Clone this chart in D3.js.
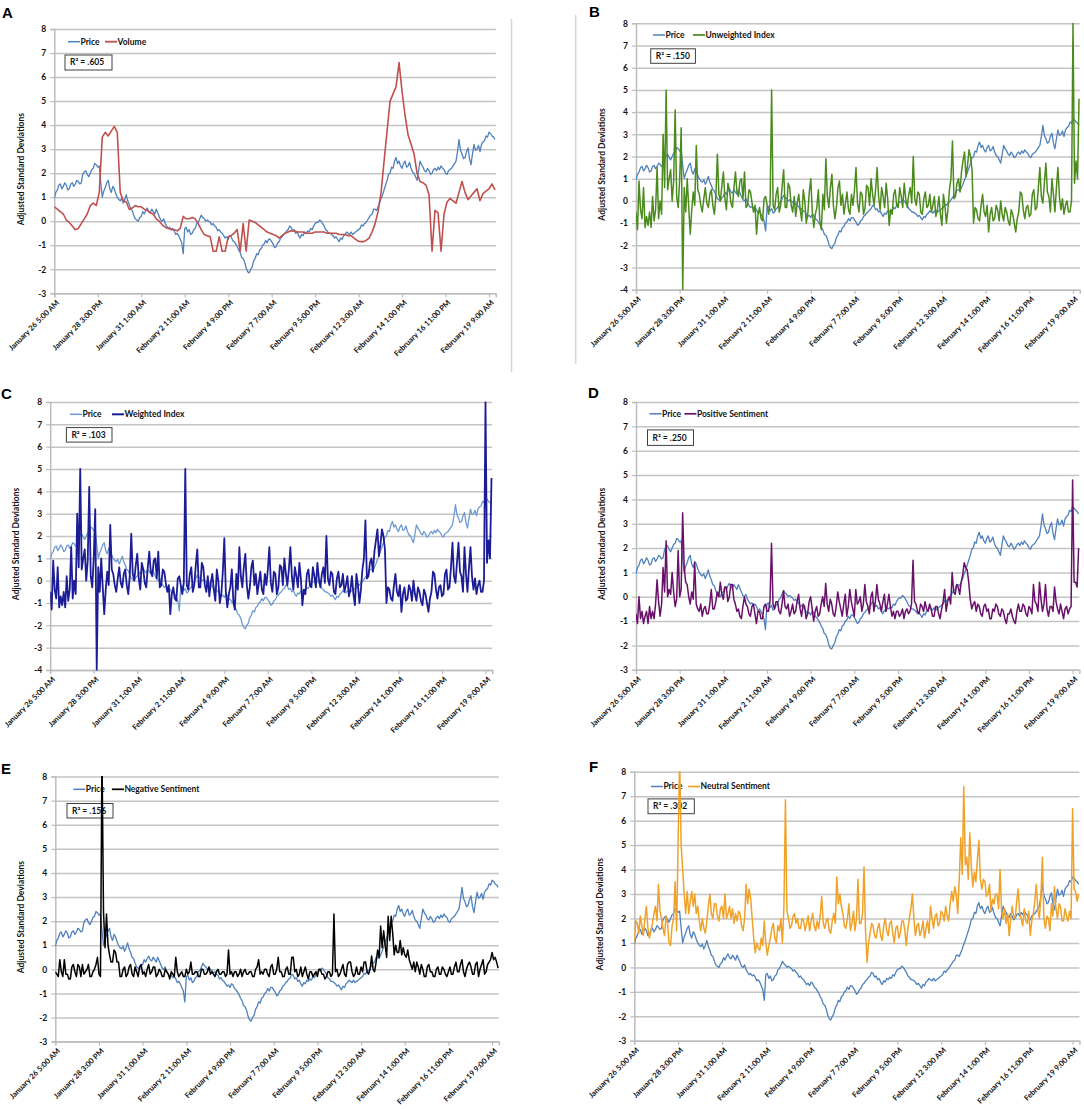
<!DOCTYPE html>
<html><head><meta charset="utf-8">
<script src="https://cdn.jsdelivr.net/npm/d3@7"></script>
<style>body{margin:0;background:#fff}svg{display:block}</style>
</head><body>
<svg id="c" width="1084" height="1109"></svg>
<script>
// ---------- data ----------
const tickLabels = ["January 26 5:00 AM","January 28 3:00 PM","January 31 1:00 AM","February 2 11:00 AM","February 4 9:00 PM","February 7 7:00 AM","February 9 5:00 PM","February 12 3:00 AM","February 14 1:00 PM","February 16 11:00 PM","February 19 9:00 AM"];
const tickHours = [0,58,116,174,232,290,348,406,464,522,580];
// hours between consecutive values, counted from January 26 5:00 AM
const priceStep = 2, volumeStep = 4, indexStep = 2;

const price = [
0.95,1.2,1.3,1.5,1.55,1.35,1.45,1.6,1.5,1.3,1.35,1.55,1.6,1.45,1.55,1.7,1.65,1.55,1.6,1.95,
2.05,2.1,1.95,1.85,2.0,2.15,2.2,2.4,2.35,2.25,2.3,1.6,1.0,1.25,1.4,1.6,1.7,1.35,1.2,1.45,
1.35,1.15,1.0,0.9,0.85,0.95,0.75,0.9,1.1,0.85,0.7,0.5,0.45,0.25,0.1,0.05,0.0,0.15,0.2,0.4,
0.3,0.45,0.55,0.4,0.35,0.5,0.4,0.3,0.5,0.35,0.2,0.05,0.0,0.1,-0.1,-0.2,-0.3,-0.25,-0.35,-0.3,
-0.4,-0.55,-0.5,-0.6,-0.75,-0.9,-1.35,-0.3,-0.25,-0.45,-0.35,-0.55,-0.5,-0.35,-0.3,-0.1,-0.05,0.1,0.25,0.15,
0.1,0.0,0.05,0.0,-0.05,-0.15,-0.1,-0.2,-0.25,-0.4,-0.35,-0.45,-0.5,-0.6,-0.7,-0.65,-0.75,-0.6,-0.65,-0.8,
-0.85,-0.95,-1.05,-1.2,-1.3,-1.5,-1.55,-1.7,-1.95,-2.1,-2.15,-2.0,-1.9,-1.65,-1.55,-1.35,-1.4,-1.2,-1.15,-1.0,
-0.95,-0.8,-0.9,-0.75,-0.75,-0.85,-0.95,-1.1,-1.05,-0.9,-0.85,-0.7,-0.65,-0.55,-0.5,-0.4,-0.35,-0.2,-0.25,-0.4,
-0.35,-0.5,-0.45,-0.6,-0.7,-0.55,-0.6,-0.45,-0.5,-0.4,-0.45,-0.3,-0.35,-0.2,-0.1,-0.05,-0.05,0.05,0.0,-0.1,
-0.2,-0.35,-0.4,-0.5,-0.5,-0.55,-0.6,-0.7,-0.65,-0.75,-0.85,-0.7,-0.75,-0.6,-0.55,-0.45,-0.5,-0.55,-0.45,-0.55,
-0.5,-0.45,-0.4,-0.35,-0.3,-0.15,-0.2,-0.1,-0.05,0.05,0.15,0.25,0.3,0.5,0.5,0.45,0.6,0.75,0.95,1.1,
1.3,1.5,1.7,1.95,2.0,2.25,2.2,2.5,2.65,2.4,2.5,2.3,2.2,2.4,2.5,2.25,2.3,2.45,2.2,2.05,
2.0,1.85,1.7,2.1,2.5,2.35,2.25,2.1,2.05,2.2,2.1,1.95,2.0,2.15,2.2,2.1,2.25,2.15,2.3,2.2,
2.15,2.0,1.95,2.1,2.15,2.2,2.3,2.4,2.5,2.9,3.4,2.95,2.8,2.6,2.65,2.9,3.05,2.6,2.35,2.8,
3.2,2.95,3.0,3.15,2.9,3.2,3.3,3.35,3.55,3.5,3.7,3.65,3.55,3.5,3.4];

const volume = [
0.6,0.5,0.4,0.3,0.05,-0.05,-0.2,-0.35,-0.3,-0.1,
0.1,0.3,0.65,0.75,0.65,1.2,3.5,3.7,3.55,3.75,
3.95,3.7,1.2,0.85,0.8,0.5,0.55,0.65,0.6,0.6,
0.5,0.45,0.35,0.3,0.1,0.0,-0.15,-0.25,-0.3,-0.35,
-0.35,-0.4,-0.3,0.2,0.1,0.1,0.15,0.1,-0.1,-0.35,
-0.55,-0.6,-0.65,-1.25,-1.25,-0.65,-1.25,-1.25,-0.65,-0.6,
-0.5,-0.35,-1.25,-0.1,-1.25,0.05,0.0,-0.05,-0.15,-0.25,
-0.35,-0.45,-0.5,-0.55,-0.6,-0.7,-0.6,-0.5,-0.45,-0.4,
-0.4,-0.45,-0.45,-0.45,-0.5,-0.5,-0.5,-0.45,-0.45,-0.45,
-0.45,-0.5,-0.5,-0.5,-0.5,-0.55,-0.55,-0.55,-0.6,-0.6,
-0.7,-0.8,-0.85,-0.85,-0.8,-0.7,-0.45,-0.1,0.4,1.2,
2.5,3.75,5.0,5.3,5.6,6.6,5.4,4.4,3.6,3.2,
2.8,2.0,1.65,1.6,1.5,1.1,-1.25,0.45,0.35,-1.25,
0.3,0.8,0.95,0.85,0.75,1.2,1.65,1.2,0.9,1.05,
1.2,1.35,0.85,1.15,1.25,1.35,1.55,1.3];

const unweightedIndex = [
-0.5,-1.3,0.9,-0.4,-0.8,0.6,-1.2,-0.7,-1.1,-0.5,-1.2,0.2,-0.9,-0.4,1.5,-0.8,0.0,-0.6,3.0,0.6,
5.0,0.5,1.0,1.4,0.0,0.9,4.1,0.2,-0.3,1.0,3.3,-4.0,0.6,-0.5,1.0,-0.3,-1.5,-0.4,0.4,-0.2,
2.5,0.5,0.3,-0.2,-0.5,0.1,0.6,-0.1,-0.3,0.3,0.5,-0.2,-0.6,0.2,2.1,0.3,0.0,0.7,1.3,0.1,
-0.4,0.8,0.5,-0.1,-0.3,0.6,1.3,0.4,0.2,0.9,1.0,0.1,1.3,-0.3,-0.2,0.5,0.4,-0.1,-0.5,-0.2,
-1.5,-0.6,-0.3,-0.8,-0.9,0.1,0.2,-0.2,-0.6,-0.1,5.0,-0.2,-0.4,0.3,0.6,-0.5,-0.2,0.7,1.4,-0.3,
-0.3,0.8,0.6,-0.2,-0.5,0.2,-0.7,-0.1,0.3,-0.4,-0.9,0.5,0.0,-1.0,-0.6,0.4,1.0,-0.5,-1.2,-0.6,
-0.3,0.5,-0.9,-1.3,0.3,-0.4,1.9,0.2,-0.3,0.6,1.2,-0.2,-0.8,-0.3,0.6,0.9,-0.2,0.3,-0.6,-0.1,
0.4,-0.4,-0.6,0.3,-0.2,0.5,1.5,-0.1,-0.5,0.4,0.3,-0.6,-0.3,0.7,0.6,-0.2,1.0,0.3,-0.2,0.5,
1.5,0.2,-0.4,0.6,0.2,-0.3,0.8,0.1,-1.1,-0.4,-0.6,0.3,0.5,-0.2,-0.3,0.6,0.2,-0.3,0.8,0.1,
-0.3,0.3,0.6,-0.1,2.0,0.1,-0.2,0.4,0.3,-0.5,-0.6,0.1,0.4,-0.3,-0.2,0.3,-0.5,-0.2,0.2,-0.7,
-0.4,0.2,-0.6,-1.1,0.3,-0.2,-1.0,-0.4,0.5,1.0,2.7,0.1,0.2,0.8,1.0,0.4,1.3,1.8,2.2,1.1,
1.6,2.3,2.0,1.4,-1.0,-0.3,-0.4,-0.8,-0.9,-0.2,0.3,-0.5,-0.7,-0.2,-1.4,-0.6,-0.3,-0.9,-0.8,-0.2,
-0.4,-0.9,0.0,-0.6,-0.9,-0.3,-0.5,-0.9,-1.1,-0.4,-0.6,-1.0,-1.4,-0.8,-0.5,0.4,0.3,-0.4,-0.8,-0.3,
-0.2,-0.7,-0.6,0.3,0.5,-0.4,-0.3,0.6,1.5,0.2,-0.1,0.8,1.7,0.4,0.2,-0.5,1.0,0.3,-0.5,0.6,
1.5,0.2,-0.4,0.1,-0.6,-0.2,0.0,-0.5,-0.5,0.0,8.0,0.8,1.8,1.0,4.6];

const weightedIndex = [
-0.5,-1.3,0.9,-0.4,-0.8,0.6,-1.2,-0.7,-1.1,-0.5,-1.2,0.2,-0.9,-0.4,1.5,-0.8,0.0,-0.6,3.0,0.6,
5.0,0.5,1.0,1.4,0.0,0.9,4.2,0.2,-0.3,1.0,3.2,-4.0,0.6,-0.5,1.0,-0.3,-1.5,-0.4,0.4,-0.2,
2.5,0.5,0.3,-0.2,-0.5,0.1,0.6,-0.1,-0.3,0.3,0.5,-0.2,-0.6,0.2,2.1,0.3,0.0,0.7,1.2,0.1,
-0.4,0.8,0.5,-0.1,-0.3,0.6,1.3,0.4,0.2,0.9,1.0,0.1,1.3,-0.3,-0.2,0.5,0.4,-0.1,-0.5,-0.2,
-1.5,-0.6,-0.3,-0.8,-0.9,0.1,0.2,-0.2,-0.6,-0.1,5.0,-0.2,-0.4,0.3,0.6,-0.5,-0.2,0.7,1.4,-0.3,
-0.3,0.8,0.6,-0.2,-0.5,0.2,-0.7,-0.1,0.3,-0.4,-0.9,0.5,0.0,-1.0,-0.6,0.4,1.9,-0.5,-1.2,-0.6,
-0.3,0.5,-0.9,-1.3,0.3,-0.4,1.5,0.2,-0.3,0.6,1.2,-0.2,-0.8,-0.3,0.6,0.9,-0.2,0.3,-0.6,-0.1,
0.4,-0.4,-0.6,0.3,-0.2,0.5,1.5,-0.1,-0.5,0.4,0.3,-0.6,-0.3,0.7,0.6,-0.2,1.0,0.3,-0.2,0.5,
1.5,0.2,-0.4,0.6,0.2,-0.3,0.8,0.1,-1.1,-0.4,-0.6,0.3,0.5,-0.2,-0.3,0.6,0.2,-0.3,0.8,0.1,
-0.3,0.3,0.6,-0.1,2.0,0.1,-0.2,0.4,0.3,-0.5,-0.6,0.1,0.4,-0.3,-0.2,0.3,-0.5,-0.2,0.2,-0.7,
-0.4,0.2,-0.6,-1.1,0.3,-0.2,-1.0,-0.4,0.5,1.0,2.7,0.1,0.2,0.8,1.0,0.4,1.3,1.8,2.3,1.1,
1.6,2.3,2.0,1.4,-1.0,-0.3,-0.4,-0.8,-0.9,-0.2,0.3,-0.5,-0.7,-0.2,-1.4,-0.6,-0.3,-0.9,-0.8,-0.2,
-0.4,-0.9,0.0,-0.6,-0.9,-0.3,-0.5,-0.9,-1.1,-0.4,-0.6,-1.0,-1.4,-0.8,-0.5,0.4,0.3,-0.4,-0.8,-0.3,
-0.2,-0.7,-0.6,0.3,0.5,-0.4,-0.3,0.6,1.7,0.2,-0.1,0.8,1.7,0.4,0.2,-0.5,1.5,0.3,-0.5,0.6,
1.5,0.2,-0.4,0.1,-0.6,-0.2,0.0,-0.5,-0.5,0.0,8.0,0.8,1.8,1.0,4.6];

const positiveSentiment = [
-0.7,-1.1,0.0,-0.9,-0.6,-1.1,-0.8,-0.6,-1.1,-0.4,-0.9,-0.6,-0.9,-0.3,0.7,-0.2,-0.8,-0.3,1.2,0.2,
2.3,0.0,0.3,0.1,1.0,0.2,-0.4,-0.1,1.9,0.0,0.3,3.45,1.2,0.6,0.5,0.0,-0.3,0.2,-0.1,1.4,
-0.3,-0.5,-0.6,-0.3,-0.8,-0.5,-0.4,-0.7,-0.7,-0.3,0.3,-0.5,-0.5,-0.2,0.2,0.0,0.6,0.1,-0.1,0.4,
0.4,-0.2,0.0,0.5,0.5,-0.1,-0.3,-0.6,-0.5,-0.8,-0.9,-0.4,0.0,-0.3,-0.4,-0.7,-0.8,-0.4,-0.3,-0.7,
-1.1,-0.6,-0.6,-0.9,-0.9,-0.4,-0.3,-0.6,-0.6,-0.2,2.2,-0.3,-0.5,-0.2,-0.2,-0.6,-0.7,-0.3,0.25,-0.4,
-0.5,-0.3,-0.8,-0.6,-0.3,-0.7,-0.6,-0.2,0.1,-0.5,-0.8,-0.3,-0.4,-0.9,-0.7,-0.2,0.0,-0.5,-1.0,-0.6,
-0.4,-0.8,-0.7,-0.3,0.0,-0.4,0.55,-0.3,-0.6,-0.1,-0.3,-0.7,-0.8,-0.4,0.2,-0.2,-0.5,-0.8,-0.3,0.1,
-0.8,-0.4,0.3,-0.2,-0.5,-0.8,0.3,-0.3,-0.2,0.0,-0.6,-0.3,0.5,-0.2,-0.4,-0.7,0.0,0.2,-0.6,-0.2,
0.5,-0.1,-0.3,-0.6,-0.2,0.1,-0.6,-0.3,0.1,-0.4,-0.8,-0.6,-0.9,-0.6,-0.6,-0.8,-0.7,-0.5,-0.9,-0.6,
-0.5,-0.7,-0.6,-0.3,1.5,-0.2,-0.3,-0.6,-0.7,-0.3,-0.4,-0.6,-0.2,-0.5,-0.6,-0.3,-0.5,-0.8,-0.8,-0.4,
-0.4,-0.7,-0.9,-0.5,-0.2,0.3,-0.6,-0.2,0.0,-0.3,1.0,0.2,0.1,0.5,0.4,0.1,0.6,0.9,1.4,1.2,
1.1,0.6,-0.1,-0.5,-0.3,-0.2,-0.6,-0.3,-0.4,-0.7,-0.8,-0.4,-0.3,-0.6,-0.5,-0.9,-0.9,-0.5,-0.6,-0.3,
-0.4,-0.7,-0.8,-0.5,-0.6,-0.9,-1.1,-0.7,-0.7,-0.5,-0.8,-1.0,-1.1,-0.6,-0.3,-0.6,-0.6,-0.3,-0.4,-0.7,
-0.8,-0.4,-0.5,-0.7,0.5,-0.2,-0.3,-0.6,0.6,-0.1,-0.6,-0.3,0.5,-0.5,-0.8,-0.4,-0.4,-0.6,0.4,-0.2,
-0.5,-0.7,-0.3,-0.6,-0.9,-0.5,-0.4,-0.7,-0.5,-0.4,4.8,0.6,0.6,0.4,2.0];

const negativeSentiment = [
-0.1,-0.2,-0.3,0.4,-0.1,-0.3,0.4,-0.2,-0.2,-0.4,-0.4,0.1,0.2,-0.1,-0.3,0.2,0.1,-0.3,0.2,-0.2,
-0.1,0.0,0.2,-0.3,-0.3,-0.1,0.0,0.2,0.5,-0.2,-0.3,9.0,2.4,0.9,2.3,1.0,0.6,0.3,0.3,0.8,
0.7,0.3,0.3,-0.3,-0.3,0.0,0.1,-0.3,-0.2,0.1,0.2,-0.2,-0.3,0.1,-0.1,-0.3,0.1,0.2,-0.2,-0.1,
-0.3,0.0,0.2,-0.2,-0.1,0.1,0.1,-0.3,-0.2,0.0,-0.1,-0.3,-0.3,0.0,-0.1,-0.2,-0.4,-0.1,-0.2,-0.3,
0.5,-0.1,-0.3,-0.2,-0.1,-0.3,-0.3,0.0,-0.2,-0.1,0.3,-0.2,-0.2,-0.1,-0.1,-0.3,-0.3,0.0,0.0,-0.2,
-0.2,-0.1,0.1,-0.2,-0.1,-0.2,-0.3,-0.1,0.0,-0.2,-0.2,-0.1,-0.1,-0.3,-0.2,0.8,-0.2,-0.1,-0.3,-0.1,
-0.1,-0.3,-0.2,0.0,-0.3,-0.1,0.0,-0.2,-0.2,-0.1,-0.1,-0.3,-0.3,0.0,0.1,0.4,-0.2,-0.1,-0.2,0.0,
0.0,-0.2,-0.3,0.1,0.2,-0.2,-0.2,0.0,0.5,-0.1,-0.1,-0.3,-0.3,0.0,0.1,-0.2,-0.2,0.5,0.5,-0.1,
0.0,-0.3,-0.2,0.1,-0.3,-0.1,0.1,-0.2,-0.4,-0.1,-0.1,-0.3,-0.2,-0.1,-0.3,0.0,0.0,-0.2,-0.2,-0.4,
-0.3,-0.1,-0.1,-0.3,-0.2,2.3,-0.1,0.0,-0.3,-0.2,0.0,0.2,-0.2,-0.3,0.2,0.3,0.3,-0.1,-0.3,-0.2,
0.1,-0.2,-0.2,0.1,-0.1,0.3,0.3,-0.1,-0.2,0.0,0.55,0.0,-0.1,0.3,0.8,0.5,1.8,0.9,1.6,1.0,
0.5,2.2,1.2,2.2,1.5,0.6,1.0,0.7,0.7,1.2,0.6,0.9,0.6,0.5,0.8,0.4,0.2,0.0,0.3,-0.1,
0.3,0.1,-0.2,0.2,0.0,-0.3,-0.3,0.1,0.2,-0.1,-0.1,-0.3,-0.3,0.0,0.1,-0.2,-0.2,0.1,0.0,-0.2,
-0.3,-0.1,0.1,-0.2,-0.2,0.1,0.3,-0.1,-0.1,0.2,0.4,-0.1,-0.3,0.0,0.2,0.3,0.1,-0.2,-0.2,0.2,
0.3,-0.3,0.0,0.2,0.4,-0.2,-0.1,0.2,0.3,0.4,0.7,0.4,0.5,0.3,0.05];

const neutralSentiment = [
1.0,1.9,1.8,1.4,2.1,1.7,1.3,2.0,2.5,1.6,1.2,1.5,1.8,2.2,2.5,1.9,3.4,2.3,2.0,1.6,
1.3,2.1,1.8,1.0,0.9,1.7,2.0,3.5,1.5,5.2,8.5,5.0,4.0,3.0,2.2,3.1,2.2,2.7,3.1,2.5,
3.0,2.2,2.5,1.9,1.5,2.0,1.6,1.4,1.9,2.5,3.0,2.2,2.0,2.6,2.6,2.1,1.9,2.4,2.5,2.0,
3.0,2.0,2.2,2.5,2.0,2.4,1.8,2.2,1.9,2.3,2.2,1.7,1.5,2.0,3.4,2.6,3.2,2.8,2.0,1.2,
0.6,1.0,0.8,0.7,1.2,0.9,1.9,1.0,0.5,0.9,1.2,1.6,1.8,1.2,1.0,1.7,1.5,2.0,1.0,2.5,
6.85,2.3,2.0,1.6,1.7,2.1,2.2,1.8,2.0,1.6,1.6,2.0,1.9,1.5,1.8,2.1,1.5,1.9,2.2,1.7,
1.5,1.9,1.6,2.1,2.9,1.8,1.6,1.9,2.0,1.5,1.4,1.9,2.2,1.8,3.7,2.6,3.0,2.5,2.2,1.7,
1.6,2.0,2.6,1.5,1.8,2.3,1.5,2.0,3.6,1.8,1.8,2.2,4.1,1.5,0.2,1.0,1.4,1.8,1.7,1.3,
1.2,1.6,1.8,1.3,1.1,1.7,2.0,1.5,1.3,1.8,1.9,1.4,1.0,1.6,1.7,1.2,1.4,1.9,1.9,1.5,
0.9,1.6,2.0,2.4,3.0,2.0,1.3,1.7,1.8,1.3,1.5,1.9,1.2,1.6,1.9,1.4,2.5,2.0,1.6,2.1,
2.2,1.7,1.8,2.3,2.2,1.9,2.5,2.1,1.9,2.6,3.1,2.7,3.3,3.0,2.2,3.6,5.3,3.8,7.4,4.2,
4.5,3.6,5.5,4.1,3.3,3.9,3.5,4.4,5.2,3.6,3.2,3.6,3.5,2.9,3.0,3.4,2.3,2.8,2.6,3.0,
3.0,2.4,4.0,2.3,2.0,2.4,1.8,2.2,1.3,1.9,2.5,2.1,2.0,2.7,3.2,2.2,2.0,1.7,2.4,1.9,
1.8,2.3,1.3,1.9,2.2,2.7,3.4,2.4,2.0,2.9,4.5,2.0,1.6,2.1,2.0,1.5,2.6,2.1,3.3,2.4,
2.0,2.6,2.5,1.9,1.9,2.4,2.1,1.9,2.3,2.0,6.5,3.2,3.1,2.7,3.0];

const seriesNames = ["Volume","Unweighted Index","Weighted Index","Positive Sentiment","Negative Sentiment","Neutral Sentiment"];
const r2Labels = [".605",".150",".103",".250",".156",".302"];
const seriesData = [volume, unweightedIndex, weightedIndex, positiveSentiment, negativeSentiment, neutralSentiment];
const seriesSteps = [volumeStep, indexStep, indexStep, indexStep, indexStep, indexStep];

// ---------- layout ----------
const layout = [
 {letter:"A", color:"#C0504D", width:1.6, priceColor:"#4F81BD", ymin:-3, x0:54.3, x580:489, top:29, bottom:293.3,
  lx:[80,117], ly:41.7, box:[65,55,47,15], title:21.5, L:[2,18]},
 {letter:"B", color:"#4B8B1E", width:1.5, priceColor:"#4F81BD", ymin:-4, x0:636, x580:1073, top:23.3, bottom:289.7,
  lx:[665,705], ly:35, box:[650.7,48.8,44.7,14.5], title:602, L:[589,17]},
 {letter:"C", color:"#1C1C96", width:1.8, priceColor:"#6E9AD3", ymin:-4, x0:50.2, x580:485.5, top:402, bottom:670,
  lx:[82,124], ly:414.3, box:[66.4,427.6,45.6,14.5], title:16.4, L:[1,399]},
 {letter:"D", color:"#69106B", width:1.5, priceColor:"#4F81BD", ymin:-3, x0:636, x580:1072.6, top:402, bottom:669.8,
  lx:[661.5,696.4], ly:413.8, box:[647.5,429.9,46,15.5], title:602, L:[588,398]},
 {letter:"E", color:"#000000", width:1.5, priceColor:"#4F81BD", ymin:-3, x0:55.3, x580:492.1, top:776.6, bottom:1041.6,
  lx:[85.3,123.9], ly:789.3, box:[67,803.5,46,14.5], title:21.5, L:[1,773.5]},
 {letter:"F", color:"#F0A228", width:1.5, priceColor:"#4F81BD", ymin:-3, x0:634.3, x580:1072.6, top:771.7, bottom:1040.8,
  lx:[662.9,700], ly:786.5, box:[648,798.9,46.3,14.8], title:600.4, L:[589,772]}
];

const FONT = "Lato, 'Open Sans', 'DejaVu Sans', sans-serif";
const svg = d3.select("#c");

svg.append("line").attr("x1",511.5).attr("x2",511.5).attr("y1",19).attr("y2",372).attr("stroke","#D6D6D6").attr("stroke-width",1.5);
svg.append("line").attr("x1",575.7).attr("x2",575.7).attr("y1",15).attr("y2",364).attr("stroke","#D6D6D6").attr("stroke-width",1.5);

layout.forEach((p, k) => {
  const g = svg.append("g").style("font-family", FONT);
  const xEnd = p.x0 + (p.x580 - p.x0) * 589 / 580;
  const x = d3.scaleLinear().domain([0, 589]).range([p.x0, xEnd]);
  const y = d3.scaleLinear().domain([p.ymin, 8]).range([p.bottom, p.top]);
  const yTicks = d3.range(p.ymin, 9);

  g.append("g").attr("transform", `translate(${p.x0},0)`)
    .call(d3.axisRight(y).tickValues(yTicks).tickSize(xEnd - p.x0).tickFormat(""))
    .call(a => a.select(".domain").remove())
    .call(a => a.selectAll("line").attr("stroke", "#C4C4C4").attr("stroke-width", 1.5));

  g.append("g").attr("transform", `translate(${p.x0},0)`)
    .call(d3.axisLeft(y).tickValues(yTicks).tickSize(4).tickPadding(4).tickFormat(d => String(d)))
    .call(a => a.select(".domain").attr("stroke", "#BDBDBD").attr("stroke-width", 1.5))
    .call(a => a.selectAll("line").attr("stroke", "#BDBDBD").attr("stroke-width", 1.2))
    .call(a => a.selectAll("text").attr("font-family", FONT).attr("font-weight", 700).attr("font-size", 8.5).attr("fill", "#111"));

  g.append("g").attr("transform", `translate(0,${p.bottom})`)
    .call(d3.axisBottom(x).tickValues(tickHours).tickSize(4).tickFormat((d, i) => tickLabels[i]))
    .call(a => a.select(".domain").attr("stroke", "#BDBDBD").attr("stroke-width", 1.5))
    .call(a => a.selectAll("line").attr("stroke", "#BDBDBD").attr("stroke-width", 1.2))
    .call(a => a.selectAll("text").attr("font-family", FONT).attr("font-weight", 700).attr("font-size", 7.6)
      .attr("fill", "#111").attr("x", 0).attr("y", 0).attr("dy", "0.35em")
      .attr("transform", "translate(3,8) rotate(-45)").style("text-anchor", "end"));

  g.append("text").attr("transform", `translate(${p.title},${(p.top + p.bottom) / 2 + 8}) rotate(-90)`)
    .attr("text-anchor", "middle").attr("dy", "0.35em").attr("font-weight", 700).attr("font-size", 8.5).attr("fill", "#111")
    .text("Adjusted Standard Deviations");

  g.append("text").attr("x", p.L[0]).attr("y", p.L[1]).attr("font-family", "'Liberation Sans', Arial, sans-serif")
    .attr("font-weight", 700).attr("font-size", 15).attr("fill", "#000").text(p.letter);

  const legItems = [{name: "Price", color: p.priceColor, tx: p.lx[0], w: 1.3}, {name: seriesNames[k], color: p.color, tx: p.lx[1], w: p.width}];
  legItems.forEach(it => {
    g.append("line").attr("x1", it.tx - 12).attr("x2", it.tx).attr("y1", p.ly).attr("y2", p.ly).attr("stroke", it.color).attr("stroke-width", it.w + 0.2);
    g.append("text").attr("x", it.tx + 0.5).attr("y", p.ly).attr("dy", "0.35em").attr("font-weight", 700).attr("font-size", 8.5).attr("fill", "#111").text(it.name);
  });

  g.append("rect").attr("x", p.box[0]).attr("y", p.box[1]).attr("width", p.box[2]).attr("height", p.box[3])
    .attr("fill", "#fff").attr("stroke", "#404040").attr("stroke-width", 1);
  g.append("text").attr("x", p.box[0] + 5).attr("y", p.box[1] + p.box[3] / 2).attr("dy", "0.35em")
    .attr("font-weight", 700).attr("font-size", 8.5).attr("fill", "#111").text("R\u00B2 = " + r2Labels[k]);

  const cid = "clip" + k;
  g.append("clipPath").attr("id", cid).append("rect")
    .attr("x", p.x0).attr("y", p.top - 0.5).attr("width", xEnd - p.x0 + 1).attr("height", p.bottom - p.top + 1);

  const mkLine = step => d3.line().x((d, i) => x(i * step)).y(d => y(d));
  const plot = g.append("g").attr("clip-path", `url(#${cid})`);
  plot.append("path").datum(price).attr("d", mkLine(priceStep)).attr("fill", "none").attr("stroke", p.priceColor).attr("stroke-width", 1.3).attr("stroke-linejoin", "round");
  plot.append("path").datum(seriesData[k]).attr("d", mkLine(seriesSteps[k])).attr("fill", "none").attr("stroke", p.color).attr("stroke-width", p.width).attr("stroke-linejoin", "round");
});
</script>
</body></html>
